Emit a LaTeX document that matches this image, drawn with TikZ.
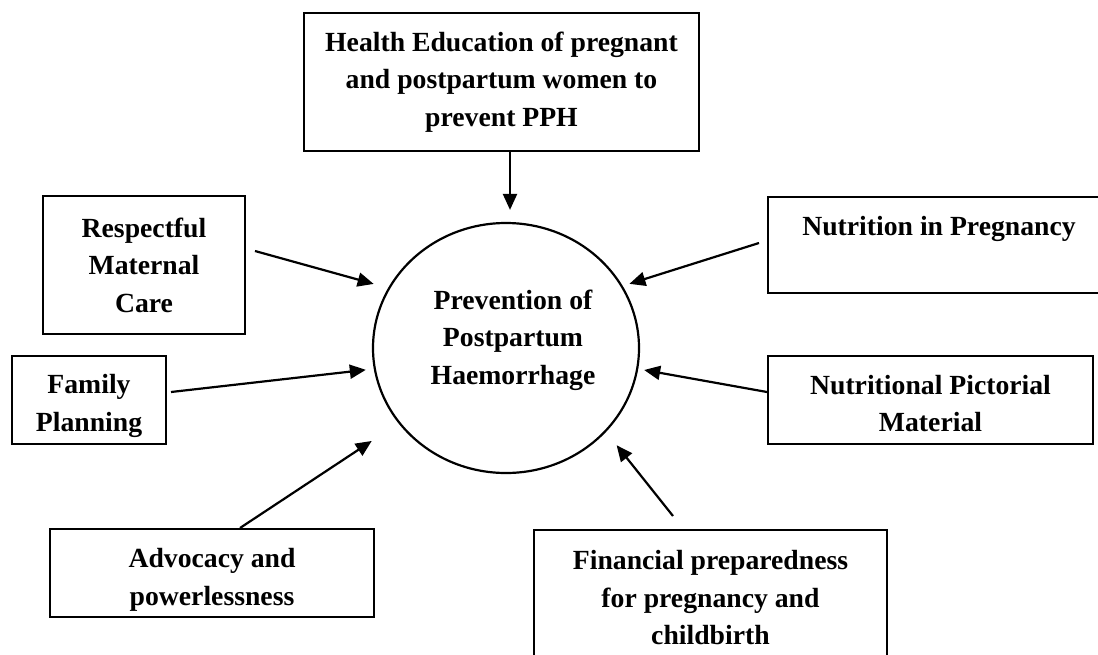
\documentclass[tikz,border=0pt]{standalone}
\usepackage{fontspec}
\setmainfont{Liberation Serif}
\usetikzlibrary{arrows.meta,shapes.geometric}
\newcommand{\lift}[1]{\rule{0pt}{#1pt}}
\begin{document}
\begin{tikzpicture}[x=1pt,y=-1pt,
  txt/.style={inner sep=0pt, align=center, font=\fontsize{27.7}{37.5}\selectfont\bfseries},
  box/.style={txt, draw, line width=2pt},
  hub/.style={draw, ellipse, line width=2.2pt, minimum width=266pt, minimum height=250pt, inner sep=0pt},
  link/.style={line width=2.2pt, -{Triangle[length=16pt,width=14pt]}}]
\clip (0,0) rectangle (1098,654);

% central topic
\node[hub] (prev) at (506,348) {};
\node[txt] (prevtext) at (513,340) {Prevention of\\Postpartum\\Haemorrhage};

% contributing factors
\node[box, minimum width=395pt, minimum height=138pt] (edu) at (501.5,82)
  {Health Education of pregnant\\and postpartum women to\\prevent PPH};
\node[box, minimum width=202pt, minimum height=138pt] (resp) at (144,265)
  {Respectful\\Maternal\\Care};
\node[box, minimum width=154pt, minimum height=88pt] (fam) at (89,400)
  {\lift{31}Family\\Planning};
\node[box, minimum width=324pt, minimum height=88pt] (adv) at (212,573)
  {\lift{33}Advocacy and\\powerlessness};
\node[box, minimum width=353pt, minimum height=136pt] (fin) at (710.5,598)
  {Financial preparedness\\for pregnancy and\\childbirth};
\node[box, minimum width=342pt, minimum height=96pt] (nut) at (939,245)
  {Nutrition in Pregnancy\\~};
\node[box, minimum width=325pt, minimum height=88pt] (pic) at (930.5,400)
  {\lift{26}Nutritional Pictorial\\Material};

% arrows into the centre
\draw[link, shorten >=12pt] ([xshift=8.5pt]edu.south) -- ([xshift=8.5pt]edu.south |- prev.north);
\draw[link, shorten >=15pt] ([xshift=9pt,yshift=14pt]resp.east) -- (prev.153.6);
\draw[link, shorten >=8pt] ([xshift=4pt,yshift=8pt]fam.east) -- (prev.189.4);
\draw[link, shorten >=32pt] ([xshift=28pt]adv.north) -- (prev.215.7);
\draw[link, shorten >=17pt] ([xshift=-37.5pt,yshift=13pt]fin.north) -- (prev.-40.6);
\draw[link, shorten >=7pt] ([xshift=-8pt,yshift=2pt]nut.west) -- (prev.28);
\draw[link, shorten >=6pt] ([yshift=8pt]pic.west) -- (prev.-9.5);
\end{tikzpicture}
\end{document}
